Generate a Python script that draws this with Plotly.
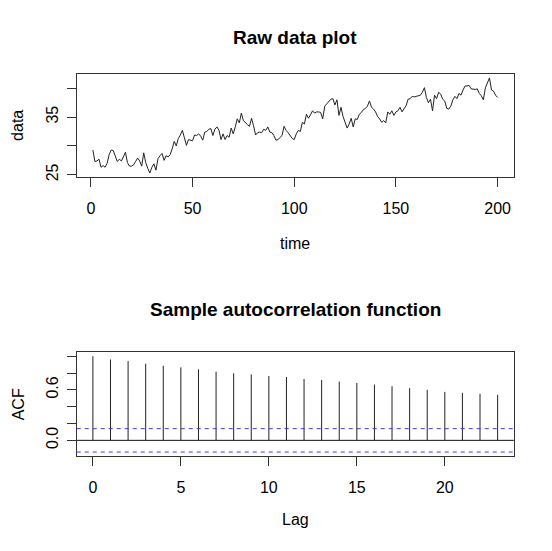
import plotly.graph_objects as go

# raw series (t = 1..200)
time = list(range(1, 201))
data = [
    29.3, 27.3, 27.4, 27.7, 26.3, 26.6, 26.3, 27.0, 28.5, 29.3,
    29.2, 28.1, 27.3, 27.7, 27.4, 28.1, 28.9, 27.1, 26.5, 26.5,
    26.7, 27.3, 27.9, 27.4, 26.5, 28.8, 27.1, 26.1, 25.3, 26.3,
    26.9, 25.8, 27.8, 28.3, 28.7, 27.5, 28.3, 28.1, 28.5, 29.5,
    30.8, 30.0, 31.3, 31.9, 32.7, 31.4, 30.1, 31.1, 31.0, 30.9,
    31.9, 31.8, 32.1, 31.7, 31.0, 32.4, 32.5, 32.9, 33.0, 31.8,
    32.9, 33.3, 32.7, 31.1, 32.1, 31.1, 31.8, 31.5, 33.1, 32.1,
    33.3, 34.7, 34.0, 35.7, 34.4, 34.0, 33.7, 33.4, 34.8, 33.5,
    31.9, 32.3, 32.4, 32.3, 32.9, 32.7, 33.3, 32.4, 32.3, 31.8,
    31.0, 31.1, 31.5, 31.8, 33.4, 32.7, 32.3, 31.8, 31.3, 31.1,
    32.1, 32.7, 32.5, 34.1, 33.8, 35.5, 34.8, 35.4, 36.1, 35.7,
    35.9, 35.9, 35.8, 34.7, 36.9, 37.3, 37.7, 38.1, 38.2, 37.1,
    38.0, 35.3, 36.7, 35.1, 34.1, 33.1, 33.8, 34.8, 33.3, 34.7,
    34.6, 35.5, 35.8, 36.3, 36.5, 36.9, 37.8, 36.7, 36.4, 35.9,
    35.1, 34.7, 34.1, 34.4, 34.0, 35.9, 35.5, 36.1, 35.3, 35.9,
    36.1, 36.7, 35.9, 36.5, 37.0, 38.1, 38.2, 38.6, 38.5, 38.6,
    38.7, 38.8, 39.3, 40.1, 38.4, 37.5, 38.1, 36.1, 38.8, 38.2,
    39.3, 39.0, 38.1, 37.8, 36.5, 36.4, 36.9, 38.0, 38.6, 38.2,
    39.1, 38.8, 39.7, 40.4, 40.4, 40.5, 39.9, 39.8, 39.8, 39.9,
    39.1, 38.7, 38.0, 40.1, 41.0, 41.8, 39.7, 39.5, 38.8, 38.4,
]

# sample ACF
lags = list(range(0, 24))
acf = [1.0, 0.961, 0.941, 0.910, 0.886, 0.867, 0.843, 0.816, 0.796, 0.784,
       0.765, 0.753, 0.729, 0.718, 0.698, 0.682, 0.663, 0.643, 0.620, 0.600,
       0.576, 0.565, 0.553, 0.541]
ci = 0.139

x_ticks_top = [0, 50, 100, 150, 200]
y_ticks_top = [25, 30, 35, 40]
y_text_top = ["25", "", "35", ""]
x_ticks_bot = [0, 5, 10, 15, 20]
y_ticks_bot = [0.0, 0.2, 0.4, 0.6, 0.8, 1.0]
y_text_bot = ["0.0", "", "", "0.6", "", ""]

# page body has an 8px margin, so the figure is a bit smaller than the window
PAD = 8
W, H = 552 - PAD, 551 - PAD
FONT = "Liberation Sans, Arial, Helvetica, sans-serif"

def px_x(p):
    return (p - PAD) / W

def px_y(p):
    return (H - (p - PAD)) / H

# stems for the acf plot
stem_x, stem_y = [], []
for l, a in zip(lags, acf):
    stem_x += [l, l, None]
    stem_y += [0, a, None]

fig = go.Figure()
fig.add_trace(go.Scatter(x=time, y=data, mode="lines",
                         line=dict(color="#222222", width=1),
                         xaxis="x", yaxis="y", showlegend=False))
fig.add_trace(go.Scatter(x=stem_x, y=stem_y, mode="lines",
                         line=dict(color="#222222", width=1),
                         xaxis="x2", yaxis="y2", showlegend=False))

# zero line and confidence bounds
fig.add_shape(type="line", xref="x2 domain", yref="y2", x0=0, x1=1, y0=0, y1=0,
              line=dict(color="#111111", width=1))
for c in [ci, -ci]:
    fig.add_shape(type="line", xref="x2 domain", yref="y2", x0=0, x1=1, y0=c, y1=c,
                  line=dict(color="#3b3bff", width=1, dash="4px,4px"))

axis_style = dict(showline=True, mirror=True, linecolor="#333333", linewidth=1,
                  ticks="outside", ticklen=9, tickcolor="#333333", tickwidth=1,
                  showgrid=False, zeroline=False,
                  tickfont=dict(family=FONT, size=16, color="black"))

xdom = [px_x(76.7), px_x(513.8)]
fig.update_layout(
    width=W, height=H,
    margin=dict(l=0, r=0, t=0, b=0),
    paper_bgcolor="white", plot_bgcolor="white",
    xaxis=dict(domain=xdom, range=[-6.96, 207.96], tickvals=x_ticks_top,
               anchor="y", ticklabelstandoff=8, **axis_style),
    yaxis=dict(domain=[px_y(178.3), px_y(74.3)], range=[24.66, 42.53],
               tickvals=y_ticks_top, ticktext=y_text_top, tickangle=-90,
               anchor="x", ticklabelstandoff=2, **axis_style),
    xaxis2=dict(domain=xdom, range=[-0.92, 23.92], tickvals=x_ticks_bot,
                anchor="y2", ticklabelstandoff=8, **axis_style),
    yaxis2=dict(domain=[px_y(460), px_y(355.5)], range=[-0.184, 1.046],
                tickvals=y_ticks_bot, ticktext=y_text_bot, tickangle=-90,
                anchor="x2", ticklabelstandoff=2, **axis_style),
)

cx = px_x((76.7 + 513.8) / 2)
# y-axis titles sit as close to the left edge as the page margin allows
notes = [
    ("<b>Raw data plot</b>", cx, px_y(38), 19, 0),
    ("time", cx, px_y(246), 16, 0),
    ("data", px_x(18), px_y(127), 16, -90),
    ("<b>Sample autocorrelation function</b>", cx, px_y(312), 19, 0),
    ("Lag", cx, px_y(524), 16, 0),
    ("ACF", px_x(18), px_y(408), 16, -90),
]
for txt, x, y, sz, ang in notes:
    fig.add_annotation(text=txt, x=x, y=y, xref="paper", yref="paper",
                       showarrow=False, textangle=ang,
                       xanchor="center", yanchor="middle",
                       font=dict(family=FONT, size=sz, color="black"))

fig.write_html("out.html")
